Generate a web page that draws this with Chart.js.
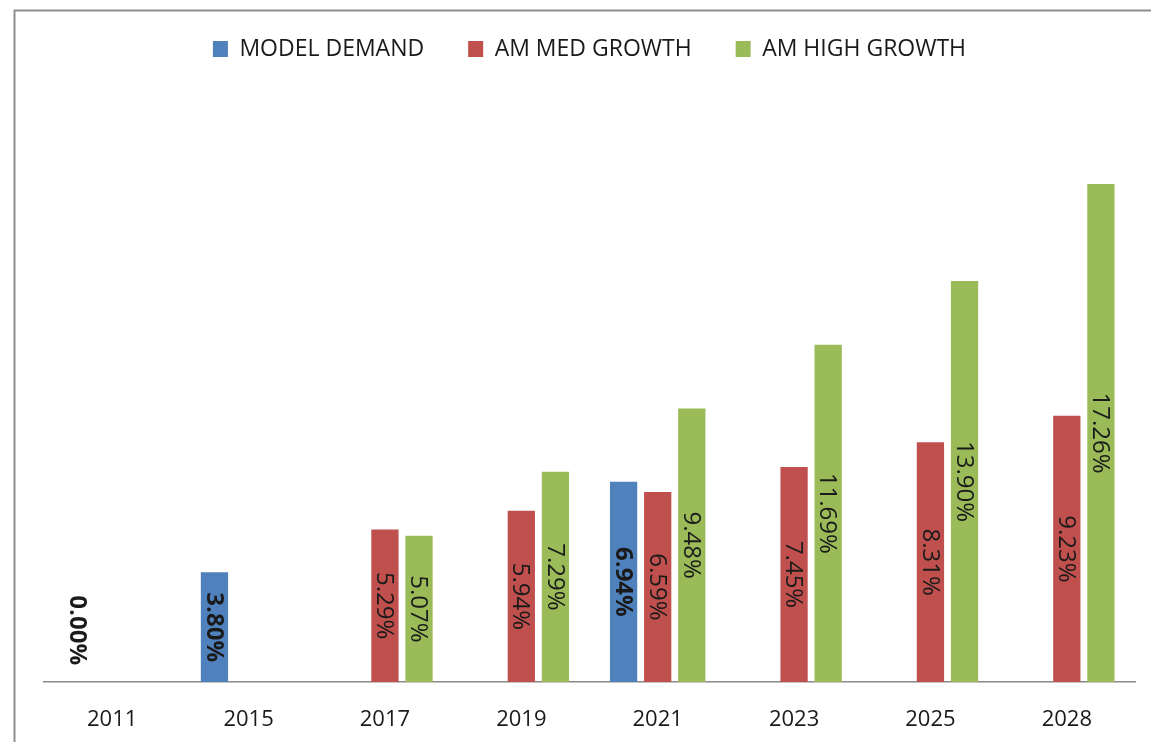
<!DOCTYPE html>
<html>
<head>
<meta charset="utf-8">
<script src="https://cdn.jsdelivr.net/npm/chart.js@4"></script>
<style>
  html, body { margin: 0; padding: 0; background: #fff; }
  #wrap { width: 1151px; height: 742px; position: relative; }
</style>
</head>
<body>
<div id="wrap"><canvas id="chart" width="1151" height="742"></canvas></div>
<script>
var years = ['2011', '2015', '2017', '2019', '2021', '2023', '2025', '2028'];
var modelDemand = [0.00, 3.80, null, null, 6.94, null, null, null];
var amMedGrowth = [null, null, 5.29, 5.94, 6.59, 7.45, 8.31, 9.23];
var amHighGrowth = [null, null, 5.07, 7.29, 9.48, 11.69, 13.90, 17.26];

var FONT = "'Open Sans', 'DejaVu Sans', sans-serif";
var LEGEND_PAD = 44;

// grey frame around the chart (left and top edges)
var framePlugin = {
    id: 'frame',
    beforeDraw: function(chart) {
        var ctx = chart.ctx;
        ctx.save();
        ctx.strokeStyle = '#8e8e8e';
        ctx.lineWidth = 2;
        ctx.beginPath();
        ctx.moveTo(14.5, chart.height);
        ctx.lineTo(14.5, 10.5);
        ctx.lineTo(chart.width, 10.5);
        ctx.stroke();
        ctx.restore();
    }
};

// fixed legend band height so the plot starts lower,
// and pull the legend row up a little after layout
var legendHeightPlugin = {
    id: 'legendHeight',
    afterInit: function(chart) {
        var lg = chart.legend;
        if (!lg) return;
        var fit = lg.fit.bind(lg);
        lg.fit = function() {
            fit();
            this.height = 105;
        };
    },
    afterLayout: function(chart) {
        var lg = chart.legend;
        if (!lg) return;
        var shift = 49 - LEGEND_PAD - 11.5 - lg.top;
        lg.top += shift;
        lg.bottom += shift;
    }
};

// rotated percentage labels inside the bars
var barLabels = {
    id: 'barLabels',
    afterDatasetsDraw: function(chart) {
        var ctx = chart.ctx;
        chart.data.datasets.forEach(function(ds, i) {
            var meta = chart.getDatasetMeta(i);
            meta.data.forEach(function(bar, j) {
                var v = ds.data[j];
                if (v === null || v === undefined) return;
                var text = v.toFixed(2) + '%';
                ctx.save();
                ctx.font = (i === 0 ? 'bold ' : '') + '24px ' + FONT;
                ctx.fillStyle = '#1a1a1a';
                var w = ctx.measureText(text).width;
                var cy = (bar.y + bar.base) / 2;
                if (v === 0) cy = bar.base - 17 - w / 2;
                ctx.translate(bar.x, cy);
                ctx.rotate(Math.PI / 2);
                ctx.textAlign = 'center';
                ctx.textBaseline = 'middle';
                ctx.fillText(text, 0, 1);
                ctx.restore();
            });
        });
    }
};

var ctx = document.getElementById('chart').getContext('2d');
var chart = new Chart(ctx, {
    type: 'bar',
    data: {
        labels: years,
        datasets: [
            { label: 'MODEL DEMAND', data: modelDemand, backgroundColor: '#4f81bd' },
            { label: 'AM MED GROWTH', data: amMedGrowth, backgroundColor: '#c0504d' },
            { label: 'AM HIGH GROWTH', data: amHighGrowth, backgroundColor: '#9bbb59' }
        ]
    },
    options: {
        responsive: false,
        animation: false,
        layout: { padding: { left: 44, right: 16, top: 0, bottom: 0 } },
        datasets: {
            bar: { categoryPercentage: 0.75, barPercentage: 0.8, borderWidth: 0 }
        },
        plugins: {
            tooltip: { enabled: false },
            legend: {
                position: 'top',
                labels: {
                    boxWidth: 15,
                    boxHeight: 16,
                    padding: LEGEND_PAD,
                    color: '#1a1a1a',
                    font: { family: FONT, size: 23 }
                }
            }
        },
        scales: {
            x: {
                grid: { display: false },
                border: { display: true, color: '#8a8a8a', width: 1.5 },
                ticks: { color: '#1a1a1a', padding: 17, font: { family: FONT, size: 22 } },
                afterFit: function(scale) { scale.height = 60; }
            },
            y: {
                display: false,
                min: 0,
                max: 20
            }
        }
    },
    plugins: [framePlugin, legendHeightPlugin, barLabels]
});
</script>
</body>
</html>
